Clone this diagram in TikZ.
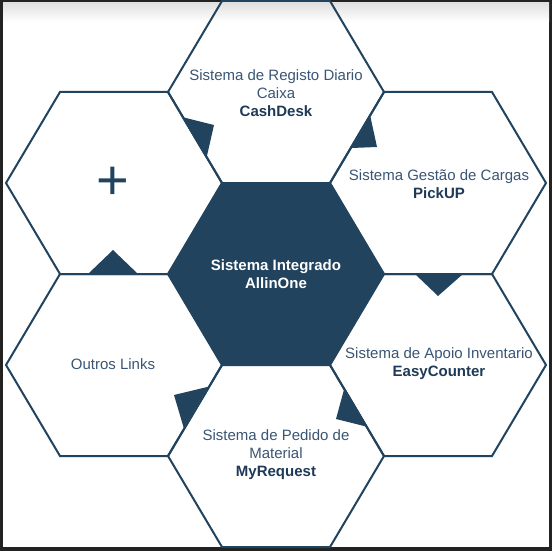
\documentclass[tikz,border=0pt]{standalone}
\usepackage{fontspec}
\setmainfont{Liberation Sans}
\definecolor{hexblue}{HTML}{21435E}
\definecolor{txtblue}{HTML}{3A5674}
\definecolor{boldblue}{HTML}{1E3A58}
\definecolor{frame}{HTML}{222222}
\tikzset{
  hexline/.style={draw=hexblue, line width=2pt, line join=miter},
  hexfill/.style={fill=hexblue, draw=hexblue, line width=1pt},
  flag/.style={fill=hexblue, draw=none},
  lbl/.style={align=center, text=txtblue, font=\fontsize{15}{18}\selectfont, inner sep=0pt},
}
\newcommand{\hexpath}[2]{(#1-108,#2) -- (#1-54,#2-91) -- (#1+54,#2-91) -- (#1+108,#2) -- (#1+54,#2+91) -- (#1-54,#2+91) -- cycle}
\begin{document}
\begin{tikzpicture}[x=1pt,y=-1pt]
\useasboundingbox (0,0) rectangle (552,551);
\fill[frame] (0,0) rectangle (552,551);
\fill[white] (3,3) rectangle (549,547);
\shade[top color=black!12, bottom color=white] (3,3) rectangle (549,22);
% outline hexagons
\draw[hexline] \hexpath{276}{92};
\draw[hexline] \hexpath{114}{183};
\draw[hexline] \hexpath{438}{183};
\draw[hexline] \hexpath{114}{365};
\draw[hexline] \hexpath{438}{365};
\draw[hexline] \hexpath{276}{456};
% center hexagon
\fill[hexfill] \hexpath{276}{274};
% flags
\fill[flag] (181.9,117.0) -- (214,125) -- (206.4,158.4) -- cycle;
\fill[flag] (370.4,116.6) -- (377,147) -- (351.8,148) -- cycle;
\fill[flag] (88,274) -- (113,250) -- (138,274) -- cycle;
\fill[flag] (415,274) -- (438,296) -- (463,274) -- cycle;
\fill[flag] (208,386.8) -- (174,395) -- (183.7,427.8) -- cycle;
\fill[flag] (344.5,387.8) -- (367.7,426.9) -- (336,419) -- cycle;
% texts
\node[lbl] (cash) at (276,93) {Sistema de Registo Diario\\Caixa\\\textcolor{boldblue}{\bfseries CashDesk}};
\node[lbl] (pick) at (439,184) {Sistema Gestão de Cargas\\\textcolor{boldblue}{\bfseries PickUP}};
\node[lbl, text=hexblue, font=\fontsize{56}{56}\selectfont] (plus) at (113,183) {+};
\node[lbl, text=white, font=\bfseries\fontsize{15}{18}\selectfont] (allin) at (276,274) {Sistema Integrado\\AllinOne};
\node[lbl] (outros) at (113,364) {Outros Links};
\node[lbl] (easy) at (439,364) {Sistema de Apoio Inventario\\\textcolor{boldblue}{\bfseries EasyCounter}};
\node[lbl] (myreq) at (276,455) {Sistema de Pedido de\\Material\\\textcolor{boldblue}{\bfseries MyRequest}};
\end{tikzpicture}
\end{document}
